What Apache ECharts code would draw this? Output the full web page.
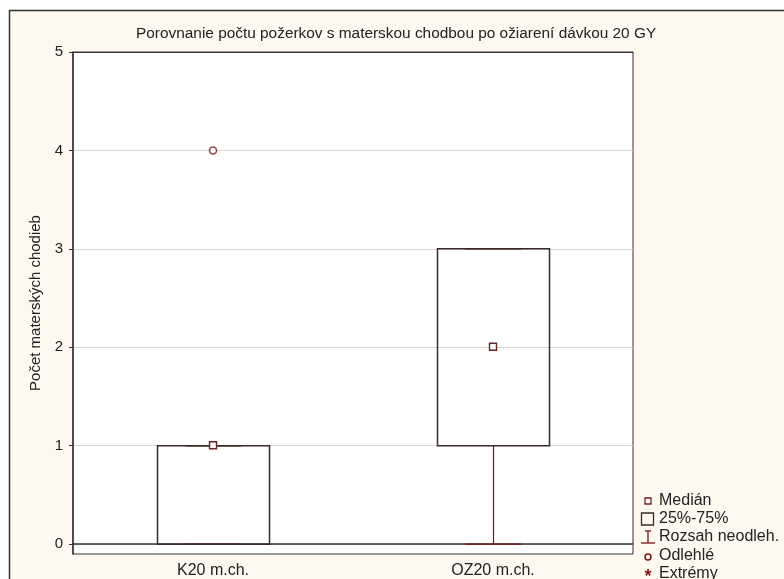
<!DOCTYPE html>
<html>
<head>
<meta charset="utf-8">
<script src="https://cdn.jsdelivr.net/npm/echarts@6/dist/echarts.min.js"></script>
<style>html,body{margin:0;padding:0;background:#fff}#c{width:784px;height:579px}</style>
</head>
<body>
<div id="c"></div>
<script>
const categories = ['K20 m.ch.', 'OZ20 m.ch.'];
const minVals = [0, 0];
const q1Vals = [0, 1];
const medianVals = [1, 2];
const q3Vals = [1, 3];
const maxVals = [1, 3];
const outlierCats = [0];
const outlierVals = [4];
const yTicks = [0, 1, 2, 3, 4, 5];

const titleText = 'Porovnanie počtu požerkov s materskou chodbou po ožiarení dávkou 20 GY';
const yTitle = 'Počet materských chodieb';
const legendLabels = ['Medián', '25%-75%', 'Rozsah neodleh.', 'Odlehlé', 'Extrémy'];

const FONT = '"Liberation Sans", Arial, sans-serif';
const BOX = '#3b2a2a';
const RED = '#7d1414';
const TXT = '#222';

const chart = echarts.init(document.getElementById('c'), null, {renderer: 'canvas'});

const boxData = categories.map((c, i) => [i, minVals[i], q1Vals[i], medianVals[i], q3Vals[i], maxVals[i]]);

function renderBox(params, api) {
  const i = api.value(0);
  const pMin = api.coord([i, api.value(1)]);
  const pQ1 = api.coord([i, api.value(2)]);
  const pMed = api.coord([i, api.value(3)]);
  const pQ3 = api.coord([i, api.value(4)]);
  const pMax = api.coord([i, api.value(5)]);
  const w = api.size([1, 0])[0] * 0.4;
  const cx = Math.round(pMed[0]) + 0.5;
  const cap = w / 2;
  const children = [];
  children.push({type: 'line', shape: {x1: cx, y1: pMin[1], x2: cx, y2: pQ1[1]}, style: {stroke: RED, lineWidth: 1.2}});
  children.push({type: 'line', shape: {x1: cx, y1: pQ3[1], x2: cx, y2: pMax[1]}, style: {stroke: RED, lineWidth: 1.2}});
  children.push({type: 'line', shape: {x1: cx - cap / 2, y1: pMin[1], x2: cx + cap / 2, y2: pMin[1]}, style: {stroke: RED, lineWidth: 1.4}});
  children.push({type: 'line', shape: {x1: cx - cap / 2, y1: pMax[1], x2: cx + cap / 2, y2: pMax[1]}, style: {stroke: RED, lineWidth: 1.4}});
  children.push({type: 'rect', shape: {x: cx - w / 2, y: pQ3[1], width: w, height: pQ1[1] - pQ3[1]}, style: {fill: 'rgba(255,255,255,0)', stroke: BOX, lineWidth: 1.5}});
  children.push({type: 'rect', shape: {x: cx - 4, y: pMed[1] - 4, width: 7, height: 7}, style: {fill: '#fff', stroke: '#6a2626', lineWidth: 1.4}});
  return {type: 'group', children};
}

const legendY = [501, 519, 537, 556, 574];
const lx = 648;
const graphics = [
  {type: 'rect', shape: {x: 0, y: 0, width: 784, height: 10}, style: {fill: '#fff'}, silent: true},
  {type: 'rect', shape: {x: 0, y: 0, width: 9, height: 579}, style: {fill: '#fff'}, silent: true},
  {type: 'polyline', shape: {points: [[9.5, 600], [9.5, 10.5], [800, 10.5]]}, style: {stroke: '#333', lineWidth: 1.5, fill: null}, silent: true},
  {type: 'rect', shape: {x: lx - 3, y: legendY[0] - 3, width: 6, height: 6}, style: {fill: 'none', stroke: '#6a2626', lineWidth: 1.3}},
  {type: 'rect', shape: {x: lx - 6.5, y: legendY[1] - 6, width: 12, height: 12}, style: {fill: 'none', stroke: BOX, lineWidth: 1.3}},
  {type: 'line', shape: {x1: lx - 3, y1: legendY[2] - 6, x2: lx + 3, y2: legendY[2] - 6}, style: {stroke: RED, lineWidth: 1.3}},
  {type: 'line', shape: {x1: lx, y1: legendY[2] - 6, x2: lx, y2: legendY[2] + 6}, style: {stroke: RED, lineWidth: 1.3}},
  {type: 'line', shape: {x1: lx - 7, y1: legendY[2] + 6, x2: lx + 7, y2: legendY[2] + 6}, style: {stroke: RED, lineWidth: 1.3}},
  {type: 'circle', shape: {cx: lx, cy: legendY[3] + 1, r: 3}, style: {fill: 'none', stroke: RED, lineWidth: 1.5}},
  {type: 'text', style: {x: lx, y: legendY[4] + 3, text: '*', font: 'bold 18px ' + FONT, fill: RED, align: 'center', verticalAlign: 'middle'}}
];
legendLabels.forEach((t, k) => {
  graphics.push({type: 'text', style: {x: 659, y: legendY[k], text: t, font: '16px ' + FONT, fill: TXT, verticalAlign: 'middle'}});
});

const option = {
  backgroundColor: '#fdf9ee',
  animation: false,
  title: {
    text: titleText, left: 131, top: 21,
    textStyle: {fontFamily: FONT, fontSize: 15.4, fontWeight: 'normal', color: TXT}
  },
  grid: {left: 73, top: 52, right: 151, bottom: 21, show: true, backgroundColor: '#fff', borderColor: '#333', borderWidth: 1},
  xAxis: [
    {
      type: 'category', data: categories, position: 'bottom', boundaryGap: true,
      axisLine: {lineStyle: {color: '#333', width: 1.5}},
      axisTick: {alignWithLabel: true, inside: true, length: 4, lineStyle: {color: '#333'}},
      axisLabel: {fontFamily: FONT, fontSize: 16, color: TXT, margin: 9}
    },
    {
      type: 'category', data: categories, position: 'top', boundaryGap: true,
      axisLine: {lineStyle: {color: '#333', width: 1}},
      axisTick: {alignWithLabel: true, inside: true, length: 4, lineStyle: {color: '#333'}},
      axisLabel: {show: false}
    }
  ],
  yAxis: {
    type: 'value', min: -0.1, max: 5,
    name: yTitle, nameLocation: 'middle', nameGap: 29,
    nameTextStyle: {fontFamily: FONT, fontSize: 15, color: TXT},
    axisLine: {show: true, lineStyle: {color: '#333', width: 1.5}},
    axisTick: {show: true, length: 4, lineStyle: {color: '#333'}, customValues: yTicks},
    axisLabel: {fontFamily: FONT, fontSize: 15, color: TXT, margin: 10, customValues: yTicks},
    splitLine: {show: true, lineStyle: {color: '#d6d6d6', width: 1}}
  },
  series: [
    {
      type: 'custom', xAxisIndex: 0, renderItem: renderBox, data: boxData,
      encode: {x: 0, y: [1, 2, 3, 4, 5]}, z: 3
    },
    {
      type: 'scatter', xAxisIndex: 0, data: outlierCats.map((c, k) => [c, outlierVals[k]]),
      symbol: 'circle', symbolSize: 7,
      itemStyle: {color: '#fff', borderColor: RED, borderWidth: 1.6}, z: 4
    }
  ],
  graphic: graphics
};
chart.setOption(option);
</script>
</body>
</html>
